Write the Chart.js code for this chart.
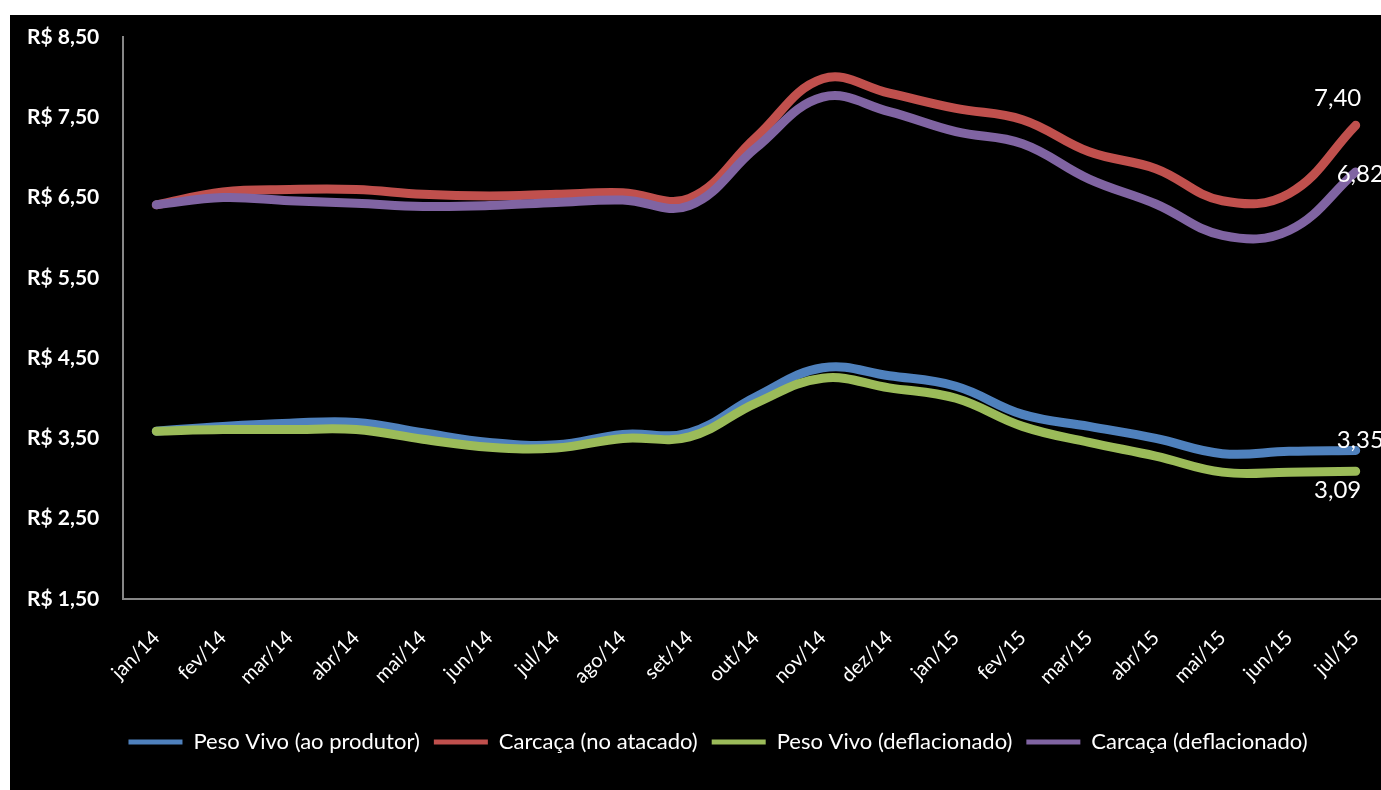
<!DOCTYPE html>
<html>
<head>
<meta charset="utf-8">
<script src="https://cdn.jsdelivr.net/npm/chart.js@4.4.1/dist/chart.umd.min.js"></script>
<style>
  html, body { margin: 0; padding: 0; background: #ffffff; overflow: hidden; }
  #frame { position: absolute; left: 10px; top: 15px; width: 1400px; height: 775px; background: #000000; }
  canvas { display: block; }
</style>
</head>
<body>
<div id="frame"><canvas id="c" width="1400" height="775"></canvas></div>
<script>
// Monthly beef prices (R$/kg), Jan/2014 to Jul/2015
const months = ['jan/14','fev/14','mar/14','abr/14','mai/14','jun/14','jul/14','ago/14','set/14','out/14','nov/14','dez/14',
                'jan/15','fev/15','mar/15','abr/15','mai/15','jun/15','jul/15'];
const pesoVivoProdutor = [3.59, 3.65, 3.69, 3.70, 3.57, 3.45, 3.42, 3.55, 3.57, 4.02, 4.38, 4.28, 4.15, 3.80, 3.65, 3.50, 3.31, 3.34, 3.35];
const carcacaAtacado   = [6.41, 6.57, 6.60, 6.60, 6.54, 6.52, 6.54, 6.56, 6.49, 7.25, 7.98, 7.80, 7.61, 7.47, 7.07, 6.86, 6.46, 6.55, 7.40];
const pesoVivoDefl     = [3.59, 3.61, 3.61, 3.61, 3.49, 3.39, 3.38, 3.50, 3.52, 3.94, 4.25, 4.13, 4.00, 3.65, 3.45, 3.28, 3.08, 3.08, 3.09];
const carcacaDefl      = [6.41, 6.50, 6.46, 6.43, 6.39, 6.40, 6.44, 6.47, 6.40, 7.12, 7.75, 7.57, 7.32, 7.17, 6.73, 6.42, 6.03, 6.09, 6.82];
const yTicks = [1.5, 2.5, 3.5, 4.5, 5.5, 6.5, 7.5, 8.5];

const FONT = 'Lato, "Open Sans", sans-serif';
const brl = v => v.toFixed(2).replace('.', ',');

function series(label, data, color, order) {
  return {
    label, data, order,
    borderColor: color, backgroundColor: color,
    borderWidth: 9, tension: 0.4,
    borderCapStyle: 'round', borderJoinStyle: 'round',
    pointRadius: 0, pointHoverRadius: 0, fill: false
  };
}

// value labels on the last month of each series
const endLabels = {
  id: 'endLabels',
  afterDatasetsDraw(chart) {
    const ctx = chart.ctx;
    const specs = [
      { ds: 1, dx: -18, dy: -27, align: 'center' },
      { ds: 3, dx: -19, dy: 2,   align: 'left' },
      { ds: 0, dx: -19, dy: -10, align: 'left' },
      { ds: 2, dx: -18, dy: 19,  align: 'center' }
    ];
    ctx.save();
    ctx.font = '24px ' + FONT;
    ctx.fillStyle = '#ffffff';
    ctx.textBaseline = 'middle';
    specs.forEach(s => {
      const meta = chart.getDatasetMeta(s.ds);
      const last = meta.data.length - 1;
      const pt = meta.data[last];
      const v = chart.data.datasets[s.ds].data[last];
      ctx.textAlign = s.align;
      ctx.fillText(brl(v), pt.x + s.dx, pt.y + s.dy);
    });
    ctx.restore();
  }
};

// nudge the legend row a little to the right
const legendShift = {
  id: 'legendShift',
  afterLayout(chart) {
    if (chart.legend) { chart.legend.left += 10; chart.legend.right += 10; }
  }
};

new Chart(document.getElementById('c'), {
  type: 'line',
  data: {
    labels: months,
    datasets: [
      series('Peso Vivo (ao produtor)', pesoVivoProdutor, '#4F81BD', 3),
      series('Carcaça (no atacado)', carcacaAtacado, '#C0504D', 2),
      series('Peso Vivo (deflacionado)', pesoVivoDefl, '#9BBB59', 1),
      series('Carcaça (deflacionado)', carcacaDefl, '#8064A2', 0)
    ]
  },
  options: {
    responsive: false,
    animation: false,
    layout: { padding: { left: 17, right: 21, top: 22, bottom: 27 } },
    plugins: {
      tooltip: { enabled: false },
      legend: {
        position: 'bottom',
        labels: {
          color: '#ffffff',
          font: { family: FONT, size: 22 },
          boxWidth: 54, boxHeight: 5, padding: 14,
          generateLabels(chart) {
            return Chart.defaults.plugins.legend.labels.generateLabels(chart)
              .sort((a, b) => a.datasetIndex - b.datasetIndex)
              .map(l => Object.assign(l, { fillStyle: l.strokeStyle, lineWidth: 0 }));
          }
        }
      }
    },
    scales: {
      x: {
        offset: true,
        afterFit(scale) { scale.height = 118; },
        grid: { display: false, drawTicks: false },
        border: { display: true, color: '#868686', width: 2 },
        ticks: { color: '#ffffff', font: { family: FONT, size: 20 }, maxRotation: 45, minRotation: 45, padding: 27, autoSkip: false }
      },
      y: {
        min: 1.5, max: 8.5,
        afterBuildTicks(scale) { scale.ticks = yTicks.map(v => ({ value: v })); },
        afterFit(scale) { scale.width = 96; scale.paddingTop = 0; scale.paddingBottom = 0; },
        grid: { display: false, drawTicks: false },
        border: { display: true, color: '#868686', width: 2 },
        ticks: {
          color: '#ffffff', crossAlign: 'far', padding: 24,
          font: { family: FONT, size: 21, weight: 'bold' },
          callback: v => 'R$ ' + brl(v)
        }
      }
    }
  },
  plugins: [endLabels, legendShift]
});
</script>
</body>
</html>
